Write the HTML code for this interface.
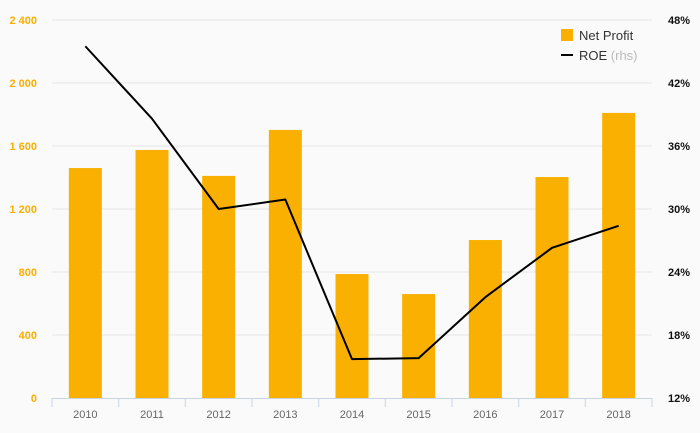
<!DOCTYPE html>
<html><head><meta charset="utf-8">
<style>
html,body{margin:0;padding:0;background:#fafafa;}
svg{display:block;font-family:"Liberation Sans",sans-serif;}
</style></head>
<body>
<svg id="chart" width="700" height="433" viewBox="0 0 700 433" xmlns="http://www.w3.org/2000/svg">
<rect width="700" height="433" fill="#fafafa"/>
<g id="grid"></g><g id="bars"></g><g id="line"></g><g id="axes"></g>
<g>
<rect x="561" y="29" width="12" height="12" fill="#f9b000"/>
<text x="579" y="40" font-size="13" fill="#333">Net Profit</text>
<line x1="561" y1="55" x2="573" y2="55" stroke="#000" stroke-width="2"/>
<text x="579" y="60" font-size="13" fill="#333">ROE <tspan fill="#bbb">(rhs)</tspan></text>
</g>
</svg>
<script>
const categories=["2010","2011","2012","2013","2014","2015","2016","2017","2018"];
const netProfit=[1460,1575,1410,1702,787,660,1003,1403,1810];
const roe=[45.5,38.6,30.0,30.9,15.7,15.8,21.6,26.3,28.4];
const leftTicks=[0,400,800,1200,1600,2000,2400];
const rightTicks=[12,18,24,30,36,42,48];

const NS="http://www.w3.org/2000/svg";
const X0=52,X1=652,Y0=398,Y1=20;
const bw=(X1-X0)/categories.length;
function xc(i){return X0+bw*(i+0.5);}
function yL(v){return Y0-(v-0)/(2400-0)*(Y0-Y1);}
function yR(v){return Y0-(v-12)/(48-12)*(Y0-Y1);}
function mk(tag,attrs,parent){const e=document.createElementNS(NS,tag);for(const k in attrs)e.setAttribute(k,attrs[k]);parent.appendChild(e);return e;}
const grid=document.getElementById('grid'),bars=document.getElementById('bars'),line=document.getElementById('line'),axes=document.getElementById('axes');
function fmt(v){return v>=1000?String(v).replace(/(\d)(\d{3})$/,'$1 $2'):String(v);}
leftTicks.forEach(v=>{
  const y=yL(v);
  if(v>0){const g=mk('line',{x1:X0,x2:X1,y1:y,y2:y,stroke:'#e6e6e6','stroke-width':1},grid);
  
  }
  const t=mk('text',{x:37,y:y+4,'text-anchor':'end','font-size':11,'font-weight':'bold',fill:'#f9b000'},axes);
  t.textContent=fmt(v);
  
  
});
rightTicks.forEach(v=>{
  const t=mk('text',{x:690,y:yR(v)+4,'text-anchor':'end','font-size':11,'font-weight':'bold',fill:'#111'},axes);
  t.textContent=v+'%';
  
  
});
categories.forEach((c,i)=>{
  const y=yL(netProfit[i]);
  const r=mk('rect',{x:xc(i)-16.5,y:y,width:33,height:Y0-y,fill:'#f9b000'},bars);
  
  
  const t=mk('text',{x:xc(i),y:418,'text-anchor':'middle','font-size':11,fill:'#666'},axes);
  t.textContent=c;
  
  
});
for(let i=0;i<=categories.length;i++){
  const x=X0+bw*i;
  const tk=mk('line',{x1:x,x2:x,y1:Y0,y2:Y0+9,stroke:'#c8d4e6','stroke-width':1},axes);
  
  
}
const ax=mk('line',{x1:X0,x2:X1,y1:Y0+0.5,y2:Y0+0.5,stroke:'#c8d4e6','stroke-width':1},axes);


const pts=roe.map((v,i)=>xc(i)+','+yR(v)).join(' ');
const pl=mk('polyline',{points:pts,fill:'none',stroke:'#000','stroke-width':2,'stroke-linejoin':'round'},line);


</script>
</body></html>
